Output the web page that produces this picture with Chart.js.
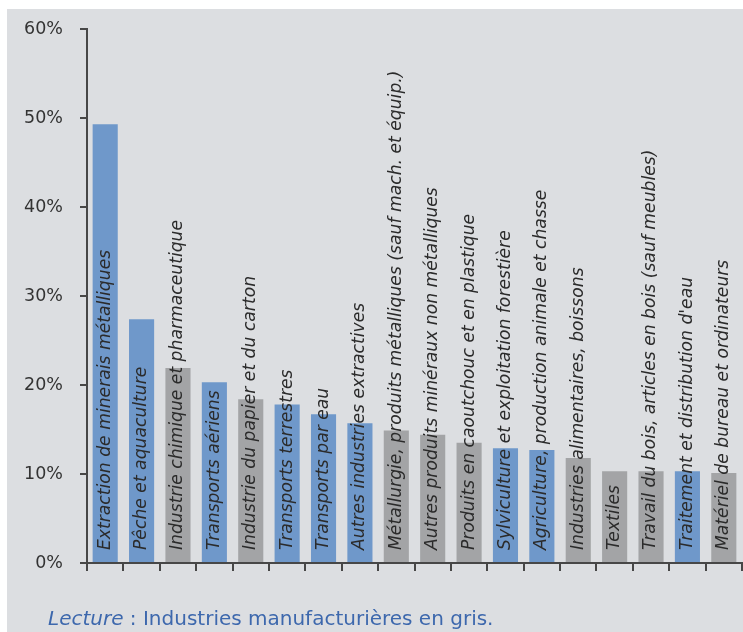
<!DOCTYPE html>
<html>
<head>
<meta charset="utf-8">
<script src="https://cdn.jsdelivr.net/npm/chart.js@4.4.1/dist/chart.umd.min.js"></script>
<style>
  html, body { margin: 0; padding: 0; background: #ffffff; }
  #wrap { position: relative; width: 743px; height: 632px; overflow: hidden; }
  #panel { position: absolute; left: 7px; top: 9px; right: 0; bottom: 0; background: #dcdee1; }
  #chartBox { position: absolute; left: 0; top: 0; width: 743px; height: 632px; }
  #footer { position: absolute; left: 48px; top: 608px; font-family: "DejaVu Sans", sans-serif; font-size: 20px; line-height: 20px; color: #3d68ad; white-space: nowrap; }
  #footer i { font-style: italic; }
</style>
</head>
<body>
<div id="wrap">
  <div id="panel"></div>
  <div id="chartBox"><canvas id="c" width="743" height="632"></canvas></div>
  <div id="footer"><i>Lecture</i> : Industries manufacturières en gris.</div>
</div>
<script>
const categories = [
  "Extraction de minerais métalliques",
  "Pêche et aquaculture",
  "Industrie chimique et pharmaceutique",
  "Transports aériens",
  "Industrie du papier et du carton",
  "Transports terrestres",
  "Transports par eau",
  "Autres industries extractives",
  "Métallurgie, produits métalliques (sauf mach. et équip.)",
  "Autres produits minéraux non métalliques",
  "Produits en caoutchouc et en plastique",
  "Sylviculture et exploitation forestière",
  "Agriculture, production animale et chasse",
  "Industries alimentaires, boissons",
  "Textiles",
  "Travail du bois, articles en bois (sauf meubles)",
  "Traitement et distribution d'eau",
  "Matériel de bureau et ordinateurs"
];
const values = [49.3, 27.4, 21.9, 20.3, 18.4, 17.8, 16.7, 15.7, 14.9, 14.4, 13.5, 12.9, 12.7, 11.8, 10.3, 10.3, 10.3, 10.1];
const manufacturing = [false, false, true, false, true, false, false, false, true, true, true, false, false, true, true, true, false, true];
const yTickValues = [0, 10, 20, 30, 40, 50, 60];

const BLUE = "#6f98ca";
const GREY = "#a3a4a6";
const AXIS = "#474747";

const barLabels = {
  id: "barLabels",
  afterDatasetsDraw(chart) {
    const ctx = chart.ctx;
    const xs = chart.scales.x, ys = chart.scales.y;
    ctx.save();
    ctx.fillStyle = "#2b2b2b";
    ctx.font = "oblique 17.2px 'DejaVu Sans'";
    ctx.textAlign = "left";
    ctx.textBaseline = "middle";
    categories.forEach((lab, i) => {
      const x = xs.getPixelForValue(i);
      const y = ys.getPixelForValue(0) - 13;
      ctx.save();
      ctx.translate(x, y);
      ctx.rotate(-Math.PI / 2);
      ctx.fillText(lab, 0, 0);
      ctx.restore();
    });
    ctx.restore();
  }
};

new Chart(document.getElementById("c"), {
  type: "bar",
  data: {
    labels: categories,
    datasets: [{
      data: values,
      backgroundColor: manufacturing.map(m => m ? GREY : BLUE),
      borderWidth: 0,
      barPercentage: 0.69,
      categoryPercentage: 1.0
    }]
  },
  options: {
    responsive: false,
    animation: false,
    devicePixelRatio: 1,
    layout: { padding: { top: 29, right: 1, left: 0, bottom: 0 } },
    plugins: { legend: { display: false }, tooltip: { enabled: false } },
    scales: {
      x: {
        offset: true,
        grid: { display: true, offset: true, drawOnChartArea: false, drawTicks: true, tickLength: 8, color: AXIS, lineWidth: 2 },
        border: { display: true, color: AXIS, width: 2 },
        ticks: { display: false },
        afterFit(scale) { scale.height = 69; }
      },
      y: {
        min: 0, max: 60,
        afterBuildTicks(scale) { scale.ticks = yTickValues.map(v => ({ value: v })); },
        grid: { display: true, drawOnChartArea: false, drawTicks: true, tickLength: 7, color: AXIS, lineWidth: 2 },
        border: { display: true, color: AXIS, width: 2 },
        ticks: {
          padding: 17,
          color: "#333333",
          font: { family: "'DejaVu Sans'", size: 17.5 },
          callback: v => v + "%"
        },
        afterFit(scale) { scale.width = 87; }
      }
    }
  },
  plugins: [barLabels]
});
</script>
</body>
</html>
